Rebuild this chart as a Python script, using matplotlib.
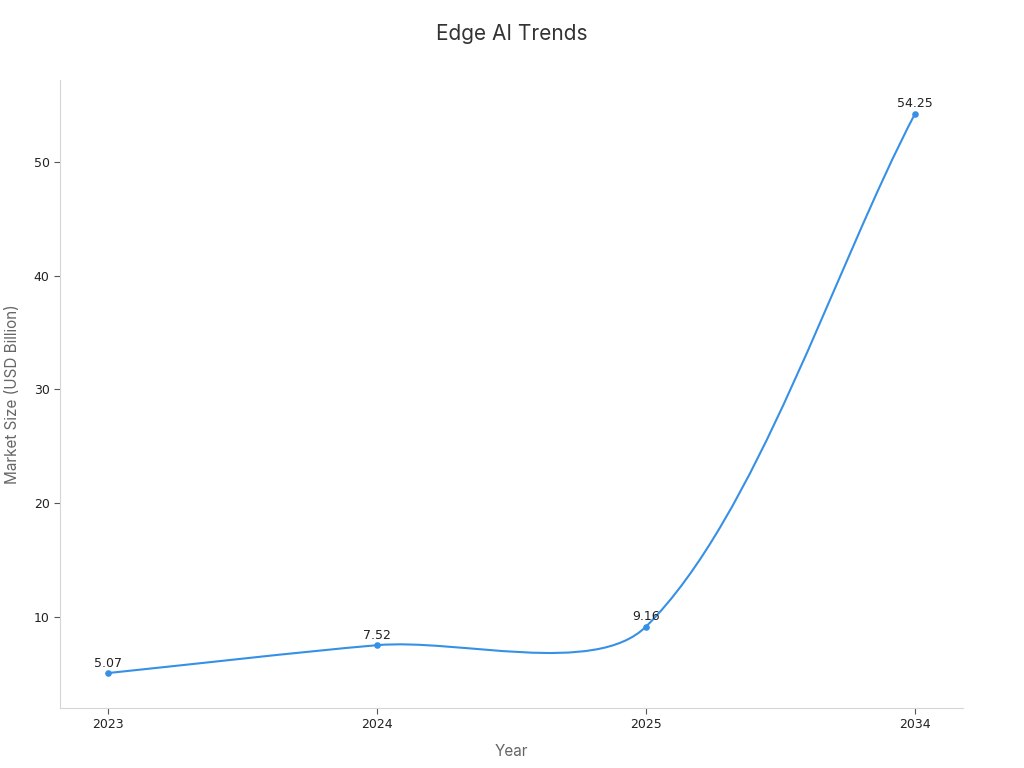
import matplotlib
matplotlib.use("Agg")
import matplotlib.pyplot as plt
from matplotlib.path import Path
from matplotlib.patches import PathPatch
import numpy as np

years = ["2023", "2024", "2025", "2034"]
market_size = [5.07, 7.52, 9.16, 54.25]

LINE = "#3590e6"
TENSION = 0.3


def spline_controls(pts, t):
    """Chart.js style bezier control points (display coords)."""
    n = len(pts)
    ctrl = []
    for i in range(n):
        prev = pts[max(i - 1, 0)]
        cur = pts[i]
        nxt = pts[min(i + 1, n - 1)]
        d01 = np.hypot(*(cur - prev))
        d12 = np.hypot(*(nxt - cur))
        tot = d01 + d12
        s01 = d01 / tot if tot else 0
        s12 = d12 / tot if tot else 0
        before = cur - t * s01 * (nxt - prev)
        after = cur + t * s12 * (nxt - prev)
        ctrl.append((before, after))
    return ctrl


fig = plt.figure(figsize=(10.24, 7.68), dpi=100)
ax = fig.add_axes([60 / 1024, 1 - 708 / 768, 903 / 1024, 628 / 768])

x = np.arange(len(years))
ax.set_xlim(-0.178, len(years) - 1 + 0.178)
ax.set_ylim(2.0, 57.2)

# smooth line built in display space, then mapped back to data
disp = ax.transData.transform(np.column_stack([x, market_size]))
ctrl = spline_controls(disp, TENSION)
verts = [disp[0]]
codes = [Path.MOVETO]
for i in range(len(disp) - 1):
    verts += [ctrl[i][1], ctrl[i + 1][0], disp[i + 1]]
    codes += [Path.CURVE4] * 3
verts = ax.transData.inverted().transform(np.array(verts))
ax.add_patch(PathPatch(Path(verts, codes), fill=False, edgecolor=LINE, lw=1.5))

ax.scatter(x, market_size, s=14, color=LINE, zorder=3)
for xi, v in zip(x, market_size):
    ax.annotate(f"{v:.2f}", (xi, v), xytext=(0, 2.5), textcoords="offset points",
                ha="center", va="bottom", fontsize=9, color="#222222")

ax.set_xticks(x)
ax.set_xticklabels(years)
ax.set_yticks([10, 20, 30, 40, 50])

for side in ["top", "right"]:
    ax.spines[side].set_visible(False)
for side in ["left", "bottom"]:
    ax.spines[side].set_color("#d6d6d6")
ax.tick_params(axis="both", colors="#555555", labelcolor="#222222", labelsize=9,
               length=4, width=0.8)

ax.set_xlabel("Year", fontsize=11, color="#666666", family="Inter", labelpad=9)
ax.set_ylabel("Market Size (USD Billion)", fontsize=11, color="#666666",
              family="Inter", labelpad=10)
fig.text(0.5, 1 - 34 / 768, "Edge AI Trends", ha="center", va="center",
         fontsize=15, color="#333333", family="Inter")

fig.savefig("out.png", dpi=100)
